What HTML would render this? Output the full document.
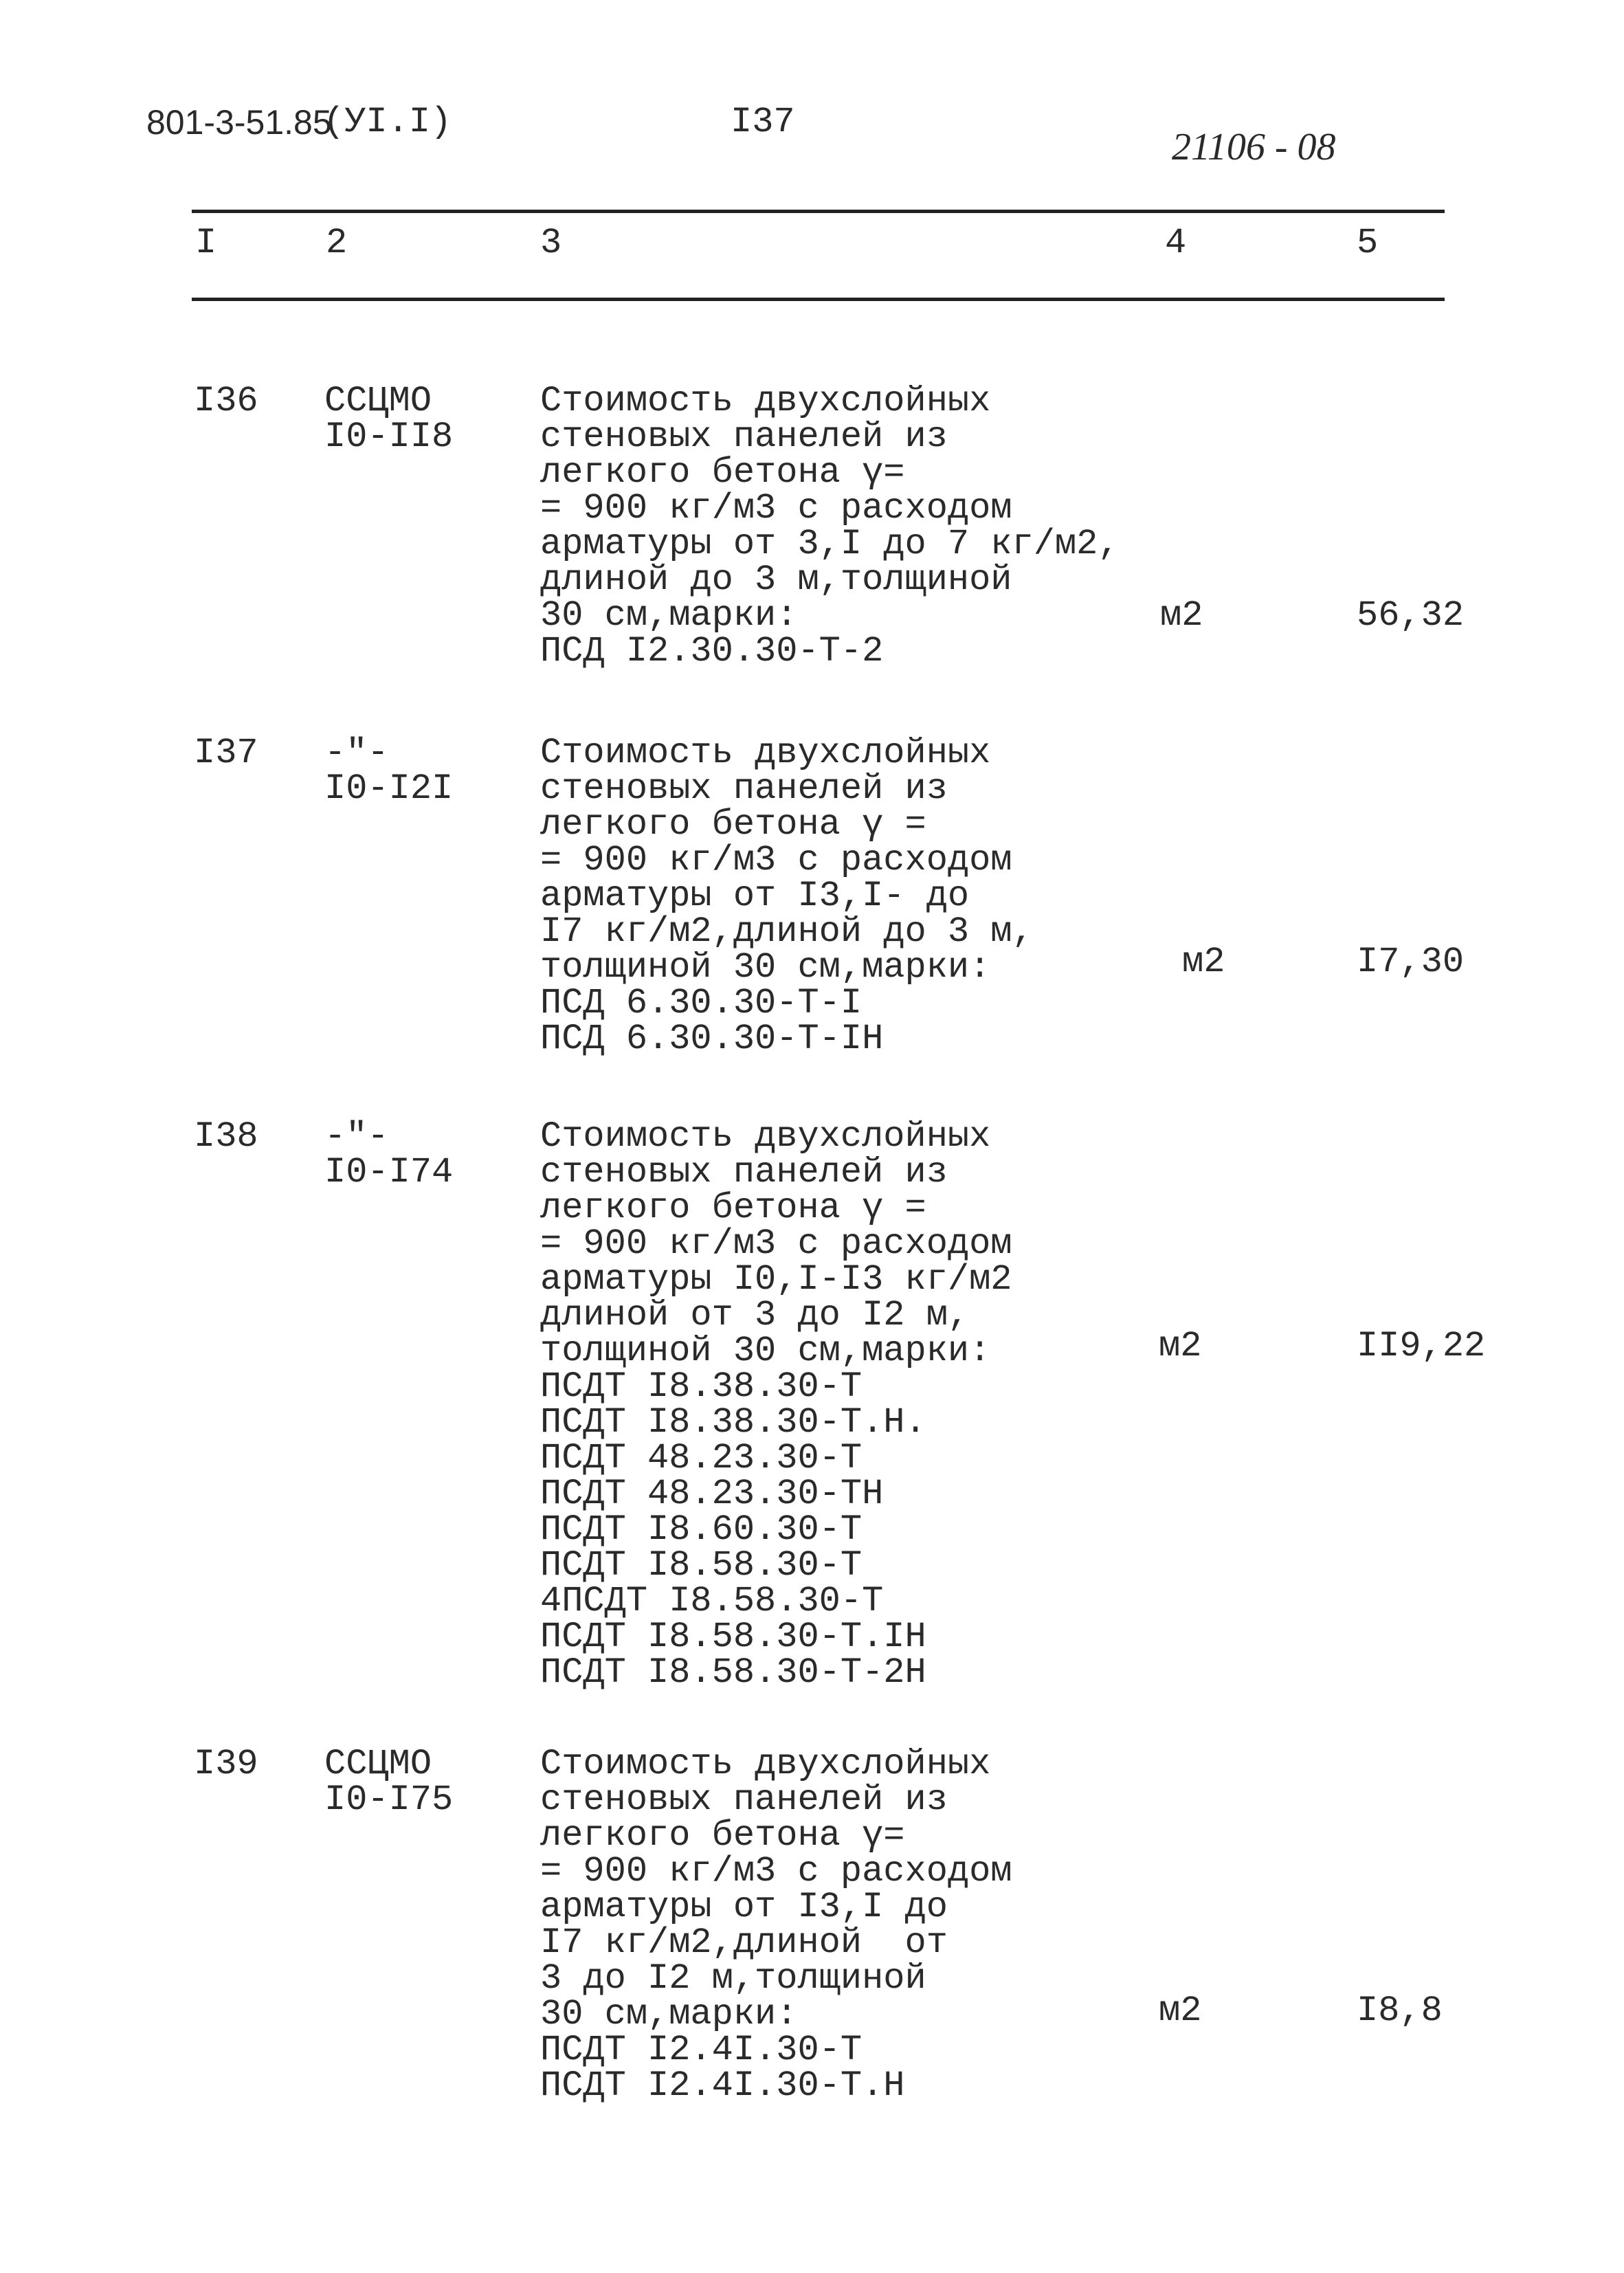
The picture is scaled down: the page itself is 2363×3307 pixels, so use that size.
<!DOCTYPE html>
<html><head><meta charset="utf-8">
<style>
html,body{margin:0;padding:0;background:#fff;}
body{width:2363px;height:3307px;position:relative;overflow:hidden;font-family:"Liberation Mono","DejaVu Sans Mono",monospace;color:#2a2a2a;}
.t{position:absolute;font-size:52px;line-height:52px;white-space:pre;}
.hl{position:absolute;background:#222;}
</style></head><body>
<div class="t" style="left:213px;top:152px;font-family:'Liberation Sans',sans-serif;font-size:50px;">801-3-51.85</div>
<div class="t" style="left:470px;top:152px;">(УI.I)</div>
<div class="t" style="left:1063px;top:152px;">I37</div>
<div class="t" style="left:1705px;top:188px;font-family:'Liberation Serif',serif;font-style:italic;font-size:56px;">21106 - 08</div>

<div class="hl" style="left:279px;top:305px;width:1823px;height:5px;"></div>
<div class="t" style="left:284px;top:328px;">I</div>
<div class="t" style="left:474px;top:328px;">2</div>
<div class="t" style="left:786px;top:328px;">3</div>
<div class="t" style="left:1695px;top:328px;">4</div>
<div class="t" style="left:1974px;top:328px;">5</div>
<div class="hl" style="left:279px;top:433px;width:1823px;height:5px;"></div>

<div class="t" style="left:282px;top:558px;">I36</div>
<div class="t" style="left:472px;top:558px;">ССЦМО
I0-II8</div>
<div class="t" style="left:786px;top:558px;">Стоимость двухслойных
стеновых панелей из
легкого бетона γ=
= 900 кг/м3 с расходом
арматуры от 3,I до 7 кг/м2,
длиной до 3 м,толщиной
30 см,марки:
ПСД I2.30.30-Т-2</div>
<div class="t" style="left:1688px;top:870px;">м2</div>
<div class="t" style="left:1974px;top:870px;">56,32</div>

<div class="t" style="left:282px;top:1070px;">I37</div>
<div class="t" style="left:472px;top:1070px;">-"-
I0-I2I</div>
<div class="t" style="left:786px;top:1070px;">Стоимость двухслойных
стеновых панелей из
легкого бетона γ =
= 900 кг/м3 с расходом
арматуры от I3,I- до
I7 кг/м2,длиной до 3 м,
толщиной 30 см,марки:
ПСД 6.30.30-Т-I
ПСД 6.30.30-Т-IН</div>
<div class="t" style="left:1720px;top:1374px;">м2</div>
<div class="t" style="left:1974px;top:1374px;">I7,30</div>

<div class="t" style="left:282px;top:1628px;">I38</div>
<div class="t" style="left:472px;top:1628px;">-"-
I0-I74</div>
<div class="t" style="left:786px;top:1628px;">Стоимость двухслойных
стеновых панелей из
легкого бетона γ =
= 900 кг/м3 с расходом
арматуры I0,I-I3 кг/м2
длиной от 3 до I2 м,
толщиной 30 см,марки:
ПСДТ I8.38.30-Т
ПСДТ I8.38.30-Т.Н.
ПСДТ 48.23.30-Т
ПСДТ 48.23.30-ТН
ПСДТ I8.60.30-Т
ПСДТ I8.58.30-Т
4ПСДТ I8.58.30-Т
ПСДТ I8.58.30-Т.IН
ПСДТ I8.58.30-Т-2Н</div>
<div class="t" style="left:1686px;top:1933px;">м2</div>
<div class="t" style="left:1974px;top:1933px;">II9,22</div>

<div class="t" style="left:282px;top:2541px;">I39</div>
<div class="t" style="left:472px;top:2541px;">ССЦМО
I0-I75</div>
<div class="t" style="left:786px;top:2541px;">Стоимость двухслойных
стеновых панелей из
легкого бетона γ=
= 900 кг/м3 с расходом
арматуры от I3,I до
I7 кг/м2,длиной  от
3 до I2 м,толщиной
30 см,марки:
ПСДТ I2.4I.30-Т
ПСДТ I2.4I.30-Т.Н</div>
<div class="t" style="left:1686px;top:2900px;">м2</div>
<div class="t" style="left:1974px;top:2900px;">I8,8</div>
</body></html>
